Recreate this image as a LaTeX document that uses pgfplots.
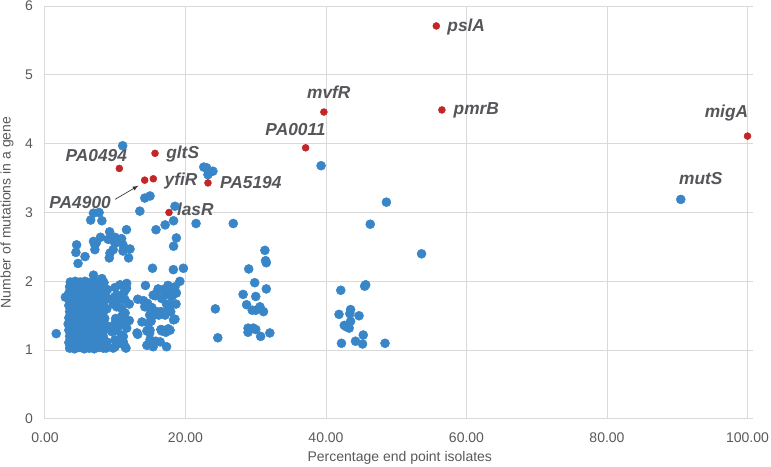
\documentclass[border=0pt]{standalone}
\usepackage{pgfplots}
\pgfplotsset{compat=1.18}
\usepackage{fontspec}
\setmainfont{Liberation Sans}
\definecolor{ptblue}{RGB}{56,134,200}
\definecolor{ptred}{RGB}{196,38,40}
\definecolor{gridgray}{RGB}{217,217,220}
\definecolor{txtgray}{RGB}{89,89,89}
\definecolor{lblgray}{RGB}{84,86,90}

\begin{document}
\begin{tikzpicture}
% 1 px of the reference = 0.75pt
\path[use as bounding box] (-33.75pt,-36pt) rectangle (544.5pt,314.25pt);
\tikzset{genelabel/.style={font=\fontsize{13}{15}\selectfont\bfseries\itshape,text=lblgray,inner sep=0pt}}
\begin{axis}[
    ,scale only axis
    ,width=531.1pt, height=309.75pt
    ,xmin=0, xmax=100.8, ymin=0, ymax=6
    ,xtick={0,20,...,100}
    ,ytick={0,1,...,6}
    ,grid=major
    ,grid style={gridgray, line width=0.75pt}
    ,axis line style={gridgray, line width=0.75pt}
    ,axis x line*=bottom, axis y line*=left
    ,tick style={draw=none}
    ,clip=false
    ,/pgf/number format/assume math mode=true
    ,ticklabel style={font=\fontsize{10.5}{12}\selectfont, text=txtgray}
    ,xticklabel style={/pgf/number format/.cd, fixed, fixed zerofill, precision=2, /tikz/.cd, yshift=-6.5pt}
    ,yticklabel style={xshift=-5.5pt}
    ,xlabel={Percentage end point isolates}
    ,ylabel={Number of mutations in a gene}
    ,label style={font=\fontsize{10.5}{12}\selectfont, text=txtgray}
    ,xlabel style={at={(axis description cs:0.501,0)}, anchor=center, yshift=-29.25pt}
    ,ylabel style={at={(axis description cs:-0.0537,0.5)}, anchor=center, rotate=0}
    ]

% all genes
\addplot[only marks, mark=*, mark size=3.375pt, ptblue, mark options={draw=ptblue, fill=ptblue}] coordinates {
% dense block
(3.5,1.03) (4.2,1.02) (4.9,1.04) (5.6,1.02) (6.3,1.03) (7.0,1.02) (7.7,1.04) (8.3,1.03)
(3.4,1.11) (4.1,1.12) (4.8,1.10) (5.5,1.12) (6.2,1.11) (6.9,1.12) (7.6,1.10) (8.4,1.12)
(3.5,1.20) (4.2,1.19) (4.9,1.21) (5.6,1.20) (6.3,1.19) (7.0,1.21) (7.7,1.19) (8.3,1.20)
(3.4,1.29) (4.1,1.28) (4.8,1.30) (5.5,1.28) (6.2,1.29) (6.9,1.28) (7.6,1.30) (8.4,1.29)
(3.3,1.38) (4.2,1.37) (4.9,1.38) (5.6,1.39) (6.3,1.37) (7.0,1.38) (7.7,1.37) (8.3,1.39)
(3.4,1.47) (4.1,1.46) (4.8,1.47) (5.5,1.45) (6.2,1.47) (6.9,1.46) (7.6,1.47) (8.5,1.46)
(3.5,1.56) (4.2,1.55) (4.9,1.57) (5.6,1.55) (6.3,1.56) (7.0,1.54) (7.7,1.56) (8.3,1.55)
(3.4,1.65) (4.1,1.64) (4.8,1.66) (5.5,1.64) (6.2,1.65) (6.9,1.63) (7.6,1.65) (8.4,1.64)
(3.5,1.74) (4.2,1.73) (4.9,1.74) (5.6,1.72) (6.3,1.74) (7.0,1.73) (7.7,1.72) (8.3,1.74)
(3.4,1.83) (4.1,1.82) (4.8,1.84) (5.5,1.82) (6.2,1.83) (6.9,1.81) (7.6,1.83) (8.5,1.82)
(3.5,1.92) (4.2,1.91) (4.9,1.92) (5.6,1.90) (6.3,1.92) (7.0,1.91) (7.7,1.90) (8.3,1.92)
(3.6,1.99) (4.3,2.00) (5.0,1.99) (5.7,2.00) (6.4,1.98) (7.1,2.00) (7.8,1.99) (8.4,1.98)
(3.8,1.06) (4.5,1.15) (5.2,1.24) (5.9,1.33) (6.6,1.42) (7.3,1.51) (8.0,1.60) (3.8,1.69)
(4.5,1.78) (5.2,1.87) (5.9,1.95) (6.6,1.06) (7.3,1.15) (8.0,1.24) (3.8,1.33) (4.5,1.42)
(5.2,1.51) (5.9,1.60) (6.6,1.69) (7.3,1.78) (8.0,1.87) (3.8,1.95) (4.5,1.60) (7.3,1.33)
(2.9,1.77) (1.6,1.24) (6.9,2.09) (8.1,2.04) (8.9,1.88) (8.8,1.60) (8.9,1.35) (8.8,1.12) (9.0,1.75) (8.7,1.03)
% right of block
(9.97,1.91) (10.68,1.95) (11.6,1.90) (11.4,1.73) (9.96,1.78) (10.2,1.63) (10.9,1.61) (10.9,1.49)
(11.4,1.54) (9.96,1.39) (9.5,1.27) (10.4,1.34) (10.9,1.22) (9.96,1.15) (11.15,1.12) (11.4,1.05)
(9.7,1.03) (11.63,1.97) (10.3,1.80) (11.25,1.84) (10.77,1.74) (9.73,1.67) (11.06,1.51) (10.06,1.46)
(10.91,1.41) (11.63,1.32) (10.06,1.29) (11.15,1.20) (9.97,1.05) (11.53,1.03) (10.7,1.10) (12.0,1.67) (12.0,1.43)
% 13-20 cluster
(13.2,1.74) (13.1,1.25) (13.8,1.41) (14.3,1.94) (14.0,1.72) (14.5,1.63) (15.2,1.62) (15.9,1.56)
(14.9,1.51) (14.7,1.39) (14.95,1.29) (14.95,1.15) (14.7,1.08) (15.4,1.05) (14.6,1.68) (14.2,1.63)
(15.18,1.58) (15.6,1.51) (15.1,1.42) (14.9,1.25) (14.5,1.28) (14.5,1.07) (15.4,1.80) (16.1,1.89)
(16.6,1.75) (15.7,1.79) (16.1,1.87) (16.85,1.88) (17.2,1.81) (17.3,1.67) (17.8,1.66) (18.1,1.79)
(18.7,1.83) (18.65,1.67) (17.9,1.56) (17.3,1.56) (17.1,1.51) (18.3,1.44) (16.5,1.30) (17.2,1.26)
(17.8,1.29) (17.55,1.31) (16.6,1.28) (16.4,1.12) (15.75,1.13) (17.3,1.05) (16.75,1.29) (16.5,1.56)
(16.2,1.51) (17.5,1.94) (17.75,1.87) (18.5,1.92) (19.2,2.0) (18.0,1.78) (18.5,1.45) (13.2,1.23)
% upper scatter
(15.3,2.19) (18.27,2.17) (19.7,2.19)
(11.06,3.97) (39.3,3.68) (48.6,3.15)
(22.6,3.66) (23.0,3.65) (23.3,3.58) (23.9,3.60) (23.2,3.55)
(14.2,3.21) (14.95,3.24) (13.5,3.02) (18.5,3.09) (18.3,2.88) (17.1,2.82) (15.8,2.75) (18.7,2.63)
(18.3,2.51) (21.5,2.84) (26.8,2.84) (46.3,2.83)
(6.9,2.99) (7.7,3.0) (6.5,2.89) (8.1,2.88) (11.6,2.75) (9.2,2.72) (7.9,2.64) (6.9,2.58)
(7.3,2.56) (9.0,2.61) (9.96,2.64) (10.9,2.62) (11.1,2.53) (9.96,2.55) (12.1,2.47) (11.1,2.44)
(9.7,2.46) (9.25,2.41) (9.15,2.34) (11.9,2.34) (7.1,2.46) (4.5,2.53) (4.4,2.42) (5.7,2.36)
(4.7,2.26) (7.1,2.53)
% 24-32 group
(31.3,2.45) (31.5,2.27) (31.4,2.30) (29.0,2.18) (29.85,1.98) (31.5,1.89) (28.2,1.81) (30.0,1.78)
(28.7,1.66) (30.6,1.63) (30.0,1.58) (29.5,1.58) (31.1,1.56) (28.9,1.32) (29.65,1.32) (30.0,1.30)
(28.9,1.26) (30.7,1.20) (32.0,1.25) (24.25,1.60) (24.6,1.18)
% 42-54 group
(53.6,2.40) (42.1,1.87) (45.65,1.95) (45.5,1.93) (41.85,1.52) (43.5,1.59) (43.4,1.53) (44.7,1.50)
(43.5,1.42) (42.6,1.36) (42.9,1.34) (43.3,1.32) (45.3,1.22) (42.2,1.10) (44.2,1.13) (45.2,1.09)
(48.4,1.10)
% mutS
(90.5,3.19)
};

% highlighted genes
\addplot[only marks, mark=*, mark size=2.6pt, ptred, mark options={draw=ptred, fill=ptred}] coordinates {
(10.58,3.64) (15.66,3.86) (14.19,3.47) (15.42,3.49) (23.2,3.43) (17.65,3.0)
(37.1,3.94) (39.7,4.46) (55.7,5.71) (56.5,4.49) (100.0,4.11)
};

% gene names
\node[genelabel] at (axis cs:7.3,3.83) {PA0494};
\node[genelabel] at (axis cs:19.6,3.85) {gltS};
\node[genelabel] at (axis cs:19.36,3.46) {yfiR};
\node[genelabel] at (axis cs:29.3,3.43) {PA5194};
\node[genelabel] at (axis cs:5.0,3.14) {PA4900};
\node[genelabel] at (axis cs:21.4,3.04) {lasR};
\node[genelabel] at (axis cs:35.66,4.20) {PA0011};
\node[genelabel] at (axis cs:40.4,4.75) {mvfR};
\node[genelabel] at (axis cs:59.96,5.69) {pslA};
\node[genelabel] at (axis cs:61.4,4.48) {pmrB};
\node[genelabel] at (axis cs:97.0,4.44) {migA};
\node[genelabel] at (axis cs:93.35,3.49) {mutS};
\draw[-latex, black!80, line width=0.5pt] (axis cs:9.96,3.19) -- (axis cs:13.3,3.39);

\end{axis}
\end{tikzpicture}
\end{document}
